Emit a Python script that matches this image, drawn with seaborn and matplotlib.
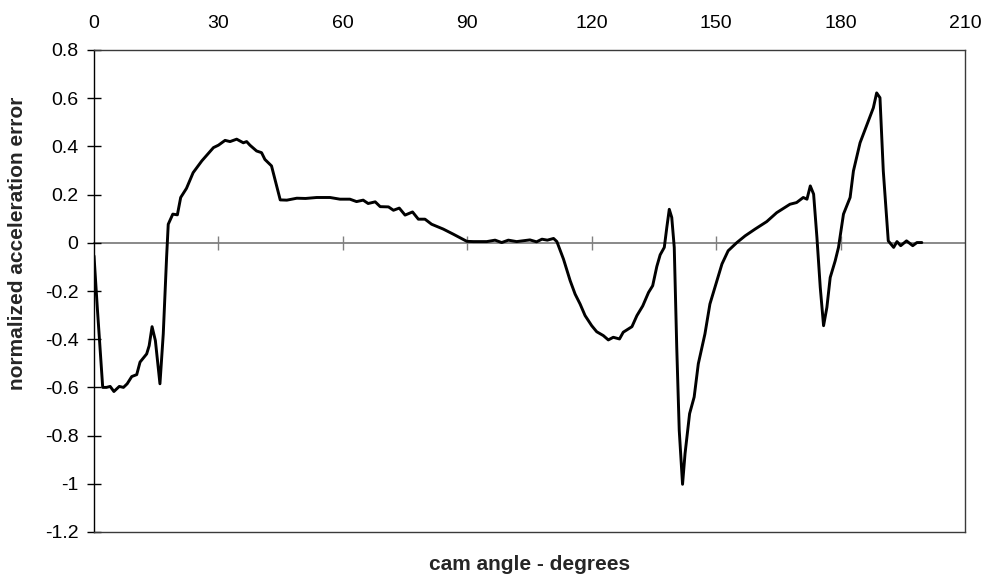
import matplotlib
matplotlib.use("Agg")
import matplotlib.pyplot as plt
import numpy as np
import pandas as pd
import seaborn as sns

# ---- data ----
angle = [0.0, 0.8, 2.1, 3.0, 3.9, 4.8, 6.1, 7.1, 8.0, 9.1, 10.3, 11.1, 12.7, 13.3,
         14.0, 14.8, 15.9, 16.7, 17.5, 17.9, 19.0, 20.1, 20.9, 22.3, 23.9, 26.0,
         28.8, 30.0, 31.6, 32.8, 34.4, 36.0, 36.8, 37.6, 39.2, 40.4, 41.2, 42.8,
         44.9, 46.5, 48.9, 51.0, 53.7, 56.9, 59.3, 61.7, 63.3, 64.9, 66.1, 67.8,
         69.0, 71.0, 72.2, 73.6, 75.0, 76.8, 78.2, 79.8, 81.4, 84.2, 86.6, 89.9,
         91.5, 94.7, 96.7, 98.3, 99.9, 101.9, 105.1, 106.7, 108.0, 109.3, 110.8,
         111.6, 113.2, 114.8, 116.0, 117.2, 118.4, 120.0, 121.2, 122.8, 124.0,
         125.2, 126.7, 127.6, 129.7, 130.9, 132.3, 133.7, 134.7, 135.7, 136.5,
         137.5, 138.1, 138.7, 139.3, 139.9, 140.5, 141.1, 141.9, 142.5, 143.6,
         144.7, 145.7, 147.3, 148.5, 150.2, 151.4, 152.9, 155.0, 157.0, 159.4,
         162.2, 164.6, 167.8, 169.4, 171.0, 171.9, 172.7, 173.5, 174.3, 175.1,
         175.9, 176.7, 177.5, 178.7, 179.5, 180.7, 182.3, 183.1, 184.7, 186.7,
         187.9, 188.7, 189.5, 190.3, 191.5, 192.8, 193.6, 194.5, 195.9, 197.4,
         198.4, 199.6]
error = [-0.054, -0.27, -0.60, -0.60, -0.596, -0.617, -0.596, -0.60, -0.585, -0.555,
         -0.547, -0.495, -0.461, -0.427, -0.348, -0.406, -0.585, -0.378, -0.061, 0.077,
         0.119, 0.116, 0.188, 0.226, 0.291, 0.340, 0.395, 0.405, 0.425, 0.420, 0.430,
         0.415, 0.420, 0.405, 0.381, 0.374, 0.346, 0.319, 0.178, 0.177, 0.185, 0.184,
         0.188, 0.188, 0.181, 0.181, 0.171, 0.177, 0.163, 0.170, 0.150, 0.149, 0.135,
         0.144, 0.115, 0.128, 0.098, 0.098, 0.077, 0.057, 0.036, 0.006, 0.005, 0.005,
         0.011, 0.001, 0.011, 0.005, 0.012, 0.004, 0.015, 0.011, 0.018, 0.005, -0.068,
         -0.157, -0.213, -0.254, -0.302, -0.344, -0.369, -0.385, -0.403, -0.392, -0.399,
         -0.371, -0.348, -0.302, -0.262, -0.206, -0.178, -0.098, -0.050, -0.019, 0.063,
         0.139, 0.105, -0.019, -0.433, -0.778, -1.002, -0.875, -0.709, -0.640, -0.502,
         -0.378, -0.254, -0.157, -0.088, -0.033, 0.001, 0.029, 0.057, 0.088, 0.125,
         0.160, 0.167, 0.188, 0.181, 0.236, 0.202, 0.022, -0.185, -0.344, -0.268,
         -0.144, -0.075, -0.019, 0.119, 0.188, 0.298, 0.415, 0.505, 0.560, 0.622,
         0.602, 0.298, 0.008, -0.019, 0.005, -0.012, 0.008, -0.012, 0.001, 0.001]

x_ticks = [0, 30, 60, 90, 120, 150, 180, 210]
y_ticks = [0.8, 0.6, 0.4, 0.2, 0.0, -0.2, -0.4, -0.6, -0.8, -1.0, -1.2]
y_tick_labels = ["0.8", "0.6", "0.4", "0.2", "0", "-0.2", "-0.4", "-0.6",
                 "-0.8", "-1", "-1.2"]
x_label = "cam angle - degrees"
y_label = "normalized acceleration error"

# ---- style ----
sns.set_style("white")
plt.rcParams['font.family'] = ['Liberation Sans', 'DejaVu Sans']

W, H = 989, 583
fig = plt.figure(figsize=(W / 100, H / 100), dpi=100)
L, R, T, B = 94, 965, 50, 532
ax = fig.add_axes([L / W, 1 - B / H, (R - L) / W, (B - T) / H])

df = pd.DataFrame({"angle": angle, "error": error})
sns.lineplot(data=df, x="angle", y="error", ax=ax, color="black",
             linewidth=2.1, sort=False, estimator=None)
for ln in ax.get_lines():
    ln.set_solid_joinstyle("round")
    ln.set_solid_capstyle("round")

ymin, ymax = -1.2, 0.8
ax.set_xlim(0, 210)
ax.set_ylim(ymin, ymax)

ax.set_xticks(x_ticks)
ax.set_xticklabels([str(v) for v in x_ticks])
ax.xaxis.tick_top()
ax.tick_params(axis="x", top=True, bottom=False, length=0, pad=13,
               labelsize=14, labelcolor="black")
ax.set_yticks(y_ticks)
ax.set_yticklabels(y_tick_labels)
ax.tick_params(axis="y", left=True, direction="inout", length=9.5, width=1,
               color="black", pad=6.5, labelsize=14, labelcolor="black")

for side in ["top", "right", "bottom"]:
    ax.spines[side].set_visible(True)
    ax.spines[side].set_color("#3a3a3a")
    ax.spines[side].set_linewidth(1.0)
ax.spines["left"].set_visible(True)
ax.spines["left"].set_color("black")
ax.spines["left"].set_linewidth(1.0)

# zero line (category axis) with crossing tick marks
zero_frac = (0 - ymin) / (ymax - ymin)
sec = ax.secondary_xaxis(zero_frac)
sec.set_xticks(x_ticks[1:-1])
sec.tick_params(axis="x", direction="inout", length=9.5, width=1,
                color="#808080", labeltop=False, labelbottom=False,
                top=True, bottom=False)
for sp in sec.spines.values():
    sp.set_color("#808080")
    sp.set_linewidth(1.3)

ax.set_xlabel(x_label, fontsize=15, fontweight="bold", va="top")
ax.xaxis.set_label_position("bottom")
ax.xaxis.set_label_coords(0.5, -0.048)
ax.set_ylabel(y_label, fontsize=15, fontweight="bold")
ax.yaxis.set_label_coords(-0.077, 0.598)

fig.savefig("out.png", dpi=100, facecolor="white")
